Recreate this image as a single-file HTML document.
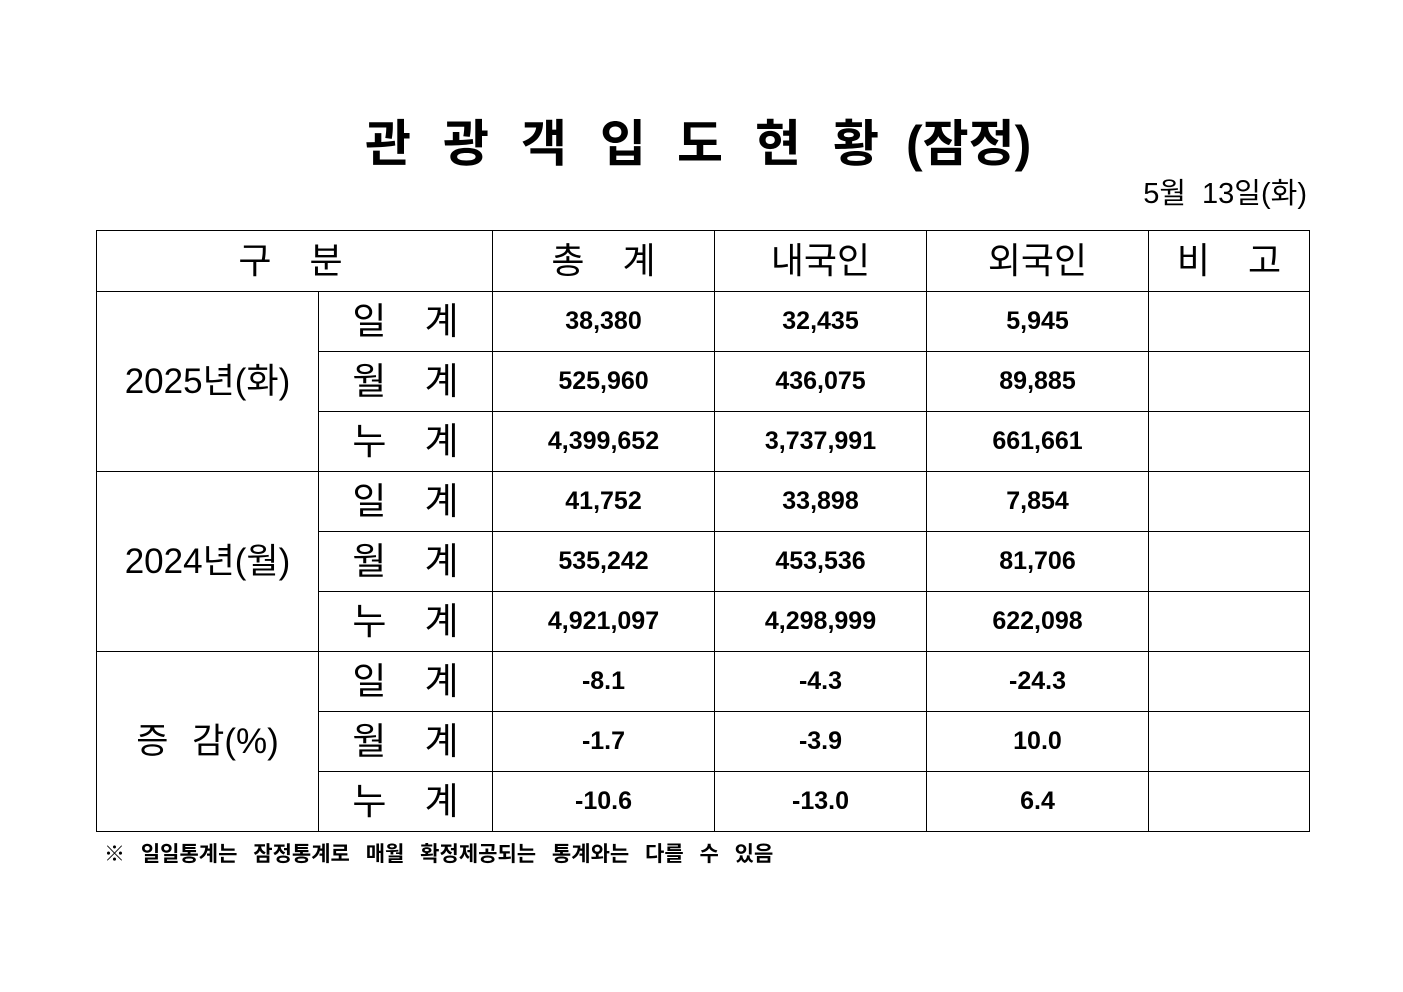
<!DOCTYPE html>
<html><head><meta charset="utf-8"><style>
body{margin:0;width:1403px;height:992px;background:#fff;position:relative;font-family:"Liberation Sans","Noto Sans CJK KR",sans-serif;color:#000}
.t{position:absolute;top:112px;font-size:50px;font-weight:bold;line-height:64px;white-space:nowrap}
.date{position:absolute;right:96px;top:176px;font-size:29px;line-height:36px;word-spacing:8px;white-space:nowrap}
table{position:absolute;left:96px;top:230px;border-collapse:collapse;table-layout:fixed;width:1213px}
td{border:1px solid #000;padding:0;text-align:center;height:59px;line-height:59px;font-size:25px;font-weight:bold;white-space:nowrap;overflow:hidden}
td.h{font-size:36px;font-weight:normal;height:60px;line-height:60px;letter-spacing:14px;padding-left:14px}
td.l{font-size:37px;font-weight:normal;letter-spacing:14px;padding-left:14px}
td.y{font-size:35px;font-weight:normal}
.foot{position:absolute;left:104px;top:840px;font-size:21px;line-height:30px;font-weight:bold;word-spacing:10px;white-space:nowrap}
</style></head><body>
<span class="t" style="left:365px">관</span>
<span class="t" style="left:443px">광</span>
<span class="t" style="left:521px">객</span>
<span class="t" style="left:600px">입</span>
<span class="t" style="left:677px">도</span>
<span class="t" style="left:755px">현</span>
<span class="t" style="left:833px">황</span>
<span class="t" style="left:906px">(잠정)</span>
<div class="date">5월 13일(화)</div>
<table>
<colgroup><col style="width:222px"><col style="width:174px"><col style="width:222px"><col style="width:212px"><col style="width:222px"><col style="width:161px"></colgroup>
<tr><td class="h" colspan="2" style="padding-right:8px">구 분</td><td class="h">총 계</td><td class="h" style="letter-spacing:0;padding:0">내국인</td><td class="h" style="letter-spacing:0;padding:0">외국인</td><td class="h">비 고</td></tr>
<tr><td class="y" rowspan="3">2025년(화)</td><td class="l">일 계</td><td>38,380</td><td>32,435</td><td>5,945</td><td></td></tr>
<tr><td class="l">월 계</td><td>525,960</td><td>436,075</td><td>89,885</td><td></td></tr>
<tr><td class="l">누 계</td><td>4,399,652</td><td>3,737,991</td><td>661,661</td><td></td></tr>
<tr><td class="y" rowspan="3">2024년(월)</td><td class="l">일 계</td><td>41,752</td><td>33,898</td><td>7,854</td><td></td></tr>
<tr><td class="l">월 계</td><td>535,242</td><td>453,536</td><td>81,706</td><td></td></tr>
<tr><td class="l">누 계</td><td>4,921,097</td><td>4,298,999</td><td>622,098</td><td></td></tr>
<tr><td class="y" rowspan="3" style="word-spacing:14px">증 감(%)</td><td class="l">일 계</td><td>-8.1</td><td>-4.3</td><td>-24.3</td><td></td></tr>
<tr><td class="l">월 계</td><td>-1.7</td><td>-3.9</td><td>10.0</td><td></td></tr>
<tr><td class="l">누 계</td><td>-10.6</td><td>-13.0</td><td>6.4</td><td></td></tr>
</table>
<div class="foot">※ 일일통계는 잠정통계로 매월 확정제공되는 통계와는 다를 수 있음</div>
</body></html>
